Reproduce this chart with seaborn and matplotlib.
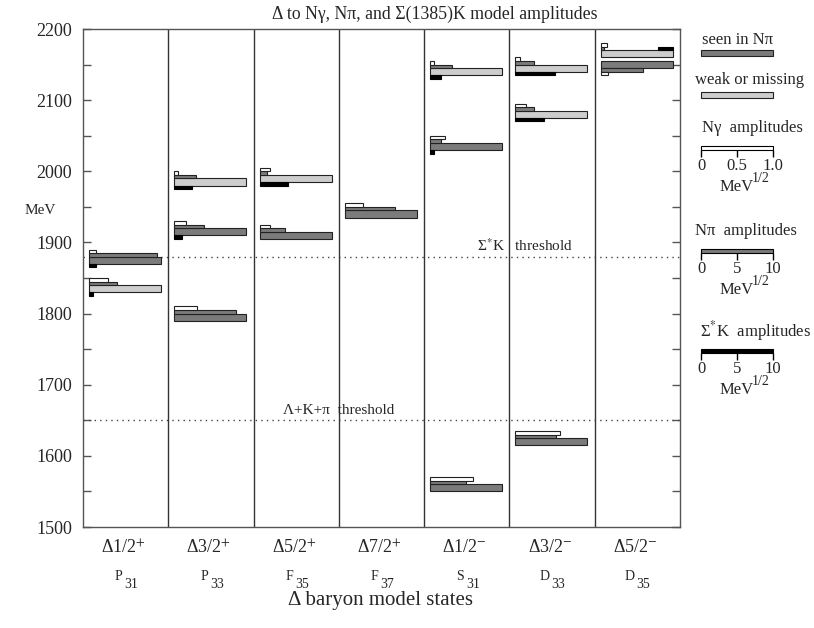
import numpy as np
import pandas as pd
import matplotlib
matplotlib.use("Agg")
import matplotlib.pyplot as plt
import seaborn as sns
from matplotlib.patches import Rectangle

# ---------------- data ----------------
column_labels = ["Δ1/2$^{+}$", "Δ3/2$^{+}$", "Δ5/2$^{+}$", "Δ7/2$^{+}$",
                 "Δ1/2$^{-}$", "Δ3/2$^{-}$", "Δ5/2$^{-}$"]
wave_letters = ["P", "P", "F", "F", "S", "D", "D"]
wave_indices = ["31", "33", "35", "37", "31", "33", "35"]

state_column = [0, 0, 1, 1, 1, 2, 2, 3, 4, 4, 4, 5, 5, 5, 6, 6]
state_mass = [1875, 1835, 1985, 1915, 1795, 1990, 1910, 1940,
              2140, 2035, 1555, 2145, 2080, 1620, 2165, 2150]
state_seen = [True, False, False, True, True, False, True, True,
              False, True, True, False, False, True, False, True]
ngamma_amp = [0.10, 0.26, 0.05, 0.16, 0.31, 0.15, 0.15, 0.25,
              0.05, 0.20, 0.60, 0.06, 0.15, 0.62, 0.09, 0.10]
npi_amp = [9.4, 3.9, 3.0, 4.1, 8.5, 1.0, 3.5, 6.9,
           3.0, 1.5, 5.0, 2.6, 2.6, 5.7, 0.4, 5.9]
sigk_amp = [1.0, 0.55, 2.5, 1.1, 0.0, 4.0, 0.0, 0.0,
            1.5, 0.5, 0.0, 5.5, 4.0, 0.0, 2.1, 0.0]
state_layout = ["up", "up", "up", "up", "up", "up", "up", "up",
                "up", "up", "up", "up", "up", "up", "up_skright", "down"]

threshold_mass = [1880, 1650]
threshold_text = ["Σ$^{*}$K   threshold", "Λ+K+π  threshold"]

ngamma_scale_ticks = [0, 0.5, 1.0]
ngamma_scale_labels = ["0", "0.5", "1.0"]
npi_scale_ticks = [0, 5, 10]
sigk_scale_ticks = [0, 5, 10]

# ---------------- style ----------------
sns.set_theme(style="ticks")
plt.rcParams["font.family"] = ["Liberation Serif", "DejaVu Serif"]
plt.rcParams["mathtext.fontset"] = "stix"

DARK = "#7b7b7b"
LIGHT = "#cdcdcd"
EDGE = "#222222"
FRAME = "#555555"

W, H = 814, 628
fig = plt.figure(figsize=(W / 100, H / 100), dpi=100)
fig.patch.set_facecolor("white")


def fx(px):
    return px / W


def fy(py):
    return 1 - py / H


ax = fig.add_axes([fx(83), fy(527), fx(680) - fx(83), fy(29) - fy(527)])
ax.set_facecolor("white")

ncol = len(column_labels)
ax.set_xlim(0, ncol)
ax.set_ylim(1500, 2200)

x0 = 0.07
full = 0.845
h_main, h_sub = 10.0, 5.0

df = pd.DataFrame(dict(col=state_column, mass=state_mass, seen=state_seen,
                       ng=ngamma_amp, npi=npi_amp, sk=sigk_amp,
                       layout=state_layout))
df["left"] = df["col"] + x0
df["sign"] = np.where(df["layout"] == "down", -1, 1)

# threshold lines
for m in threshold_mass:
    ax.axhline(m, color="#444444", ls=(0, (1, 3)), lw=1.0, zorder=1)

# column separators
for i in range(1, ncol):
    ax.axvline(i, color="#333333", lw=1.0, zorder=1)

# main level bars
ax.barh(df["mass"], full, height=h_main, left=df["left"],
        color=np.where(df["seen"], DARK, LIGHT), edgecolor=EDGE,
        linewidth=0.8, zorder=3)

# N pi amplitudes
d = df[df["npi"] > 0]
ax.barh(d["mass"] + d["sign"] * (h_main / 2 + h_sub / 2), d["npi"] / 10 * full,
        height=h_sub, left=d["left"], color=DARK, edgecolor=EDGE,
        linewidth=0.8, zorder=3)

# N gamma amplitudes
d = df[df["ng"] > 0]
ax.barh(d["mass"] + d["sign"] * (h_main / 2 + 1.5 * h_sub), d["ng"] / 1.0 * full,
        height=h_sub, left=d["left"], color="white", edgecolor=EDGE,
        linewidth=0.8, zorder=3)

# Sigma* K amplitudes
d = df[df["sk"] > 0].copy()
w_sk = d["sk"] / 10 * full
right = d["layout"] == "up_skright"
y_sk = np.where(right, d["mass"] + (h_main / 2 + h_sub / 2),
                d["mass"] - (h_main / 2 + h_sub / 2))
left_sk = np.where(right, d["left"] + full - w_sk, d["left"])
ax.barh(y_sk, w_sk, height=h_sub, left=left_sk, color="black",
        edgecolor="black", linewidth=0.8, zorder=4)

# axes styling
for s in ax.spines.values():
    s.set_color(FRAME)
    s.set_linewidth(1.0)
ax.set_yticks(np.arange(1500, 2201, 100))
ax.set_yticks(np.arange(1550, 2200, 100), minor=True)
ax.tick_params(axis="y", which="both", direction="in", left=True, right=True,
               length=6, width=1, color=FRAME, labelsize=13, pad=8)
ax.set_xticks([])
for lab in ax.get_yticklabels():
    lab.set_family(["Liberation Serif", "DejaVu Serif"])

# threshold labels
ax.text(4.62, 1884, threshold_text[0], fontsize=11, ha="left", va="bottom")
ax.text(2.34, 1654, threshold_text[1], fontsize=11, ha="left", va="bottom")

# column labels
for i in range(ncol):
    xc_px = 83 + (i + 0.5) / ncol * (680 - 83)
    fig.text(fx(xc_px - 2), fy(548), column_labels[i], fontsize=13,
             ha="center", va="center")
    fig.text(fx(xc_px - 3), fy(577), wave_letters[i], fontsize=10,
             ha="right", va="center")
    fig.text(fx(xc_px - 1), fy(584), wave_indices[i], fontsize=10,
             ha="left", va="center")

fig.text(fx(381), fy(600), "Δ baryon model states", fontsize=15,
         ha="center", va="center")
fig.text(fx(435), fy(14), "Δ to Nγ, Nπ, and Σ(1385)K model amplitudes",
         fontsize=12.8, ha="center", va="center")
fig.text(fx(40), fy(210), "MeV", fontsize=11, ha="center", va="center")

# ---------------- legend ----------------
lx0, lx1 = 701, 773
fig.text(fx(702), fy(40), "seen in Nπ", fontsize=12, ha="left", va="center")
fig.patches.append(Rectangle((fx(lx0), fy(56)), fx(lx1) - fx(lx0), fy(50) - fy(56),
                             transform=fig.transFigure, facecolor=DARK,
                             edgecolor=EDGE, linewidth=0.8))
fig.text(fx(695), fy(80), "weak or missing", fontsize=12, ha="left", va="center")
fig.patches.append(Rectangle((fx(lx0), fy(98)), fx(lx1) - fx(lx0), fy(92) - fy(98),
                             transform=fig.transFigure, facecolor=LIGHT,
                             edgecolor=EDGE, linewidth=0.8))


def scale_bar(title, title_x, y_title, y_bar, ticks, labels, color, vmax):
    fig.text(fx(title_x), fy(y_title), title, fontsize=12, ha="left", va="center")
    sa = fig.add_axes([fx(lx0), fy(y_bar + 4), fx(lx1) - fx(lx0), fy(y_bar) - fy(y_bar + 4)])
    sa.barh(0, vmax, height=1, left=0, color=color, edgecolor="black",
            linewidth=0.8, clip_on=False)
    sa.set_xlim(0, vmax)
    sa.set_ylim(-0.5, 0.5)
    sa.set_yticks([])
    sa.set_xticks(ticks)
    sa.set_xticklabels(labels)
    sa.tick_params(axis="x", direction="out", length=5, width=1, color="black",
                   labelsize=12, pad=0.5)
    for lab in sa.get_xticklabels():
        lab.set_family(["Liberation Serif", "DejaVu Serif"])
    for s in sa.spines.values():
        s.set_visible(False)
    sa.patch.set_alpha(0)
    fig.text(fx(720), fy(y_bar + 45), "MeV", fontsize=12,
             ha="left", va="baseline")
    fig.text(fx(752), fy(y_bar + 36), "1/2", fontsize=10,
             ha="left", va="baseline")


scale_bar("Nγ  amplitudes", 702, 128, 146, ngamma_scale_ticks,
          ngamma_scale_labels, "white", 1.0)
scale_bar("Nπ  amplitudes", 695, 231, 249, npi_scale_ticks,
          [str(t) for t in npi_scale_ticks], DARK, 10)
scale_bar("Σ$^{*}$K  amplitudes", 700, 331, 349, sigk_scale_ticks,
          [str(t) for t in sigk_scale_ticks], "black", 10)

fig.savefig("out.png", dpi=100, facecolor="white")
